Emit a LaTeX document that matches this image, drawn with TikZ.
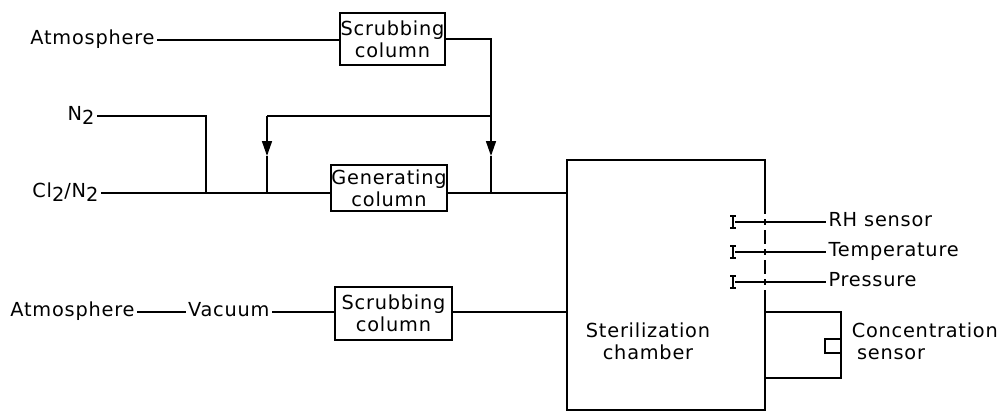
\documentclass[tikz,border=0pt]{standalone}
\usepackage{fontspec}
\setmainfont{DejaVu Sans}[LetterSpace=4]
\usetikzlibrary{arrows.meta}
\newcommand{\low}[1]{\raisebox{-0.35ex}{#1}}
\begin{document}
\begin{tikzpicture}[x=0.02cm,y=-0.02cm,line width=0.9pt,
    font=\fontsize{11}{12.5}\selectfont,
    box/.style={draw,line width=1.1pt,align=center,inner sep=0pt},
    lbl/.style={inner xsep=1pt},
    flow/.style={-{Triangle[length=0.3cm,width=0.2cm]}}]
  \useasboundingbox (0,0) rectangle (1001,414);
  % feed side
  \node[lbl,anchor=mid east] (atmA) at (157,40) {Atmosphere};
  \node[box,minimum width=2.1cm,minimum height=1.04cm] (scrubA) at (392.5,39) {Scrubbing\\column};
  \node[lbl,anchor=mid east] (nit) at (97,116) {N\low{2}};
  \node[lbl,anchor=mid east] (chl) at (101,193) {Cl\low{2}/N\low{2}};
  \node[box,minimum width=2.24cm,minimum height=0.92cm] (gen) at (389,188) {Generating\\column};
  \node[lbl,anchor=mid east] (atmB) at (137,312) {Atmosphere};
  \node[lbl,anchor=mid east] (vac) at (272,312) {Vacuum};
  \node[box,minimum width=2.34cm,minimum height=1.06cm] (scrubB) at (393.5,313.5) {Scrubbing\\column};
  % chamber
  \node[draw,line width=1.1pt,minimum width=3.96cm,minimum height=5cm] (ch) at (666,285) {};
  \node[align=center] (chlbl) at (648,341) {Sterilization\\chamber};
  \coordinate (jA) at (491,116);
  \coordinate (jB) at (491,193);
  \coordinate (jC) at (267,116);
  \coordinate (jD) at (267,193);
  \coordinate (jE) at (206,193);
  \coordinate (aA) at (491,156);
  \coordinate (aC) at (267,156);
  \draw (atmA.mid east) -- (atmA.mid east -| scrubA.west);
  \draw (scrubA.east) -| (jA) -- (jC);
  \draw[flow] (jA) -- (aA);
  \draw (aA) -- (jB);
  \draw[flow] (jC) -- (aC);
  \draw (aC) -- (jD);
  \draw (nit.mid east) -| (jE);
  \draw (chl.mid east) -- (chl.mid east -| gen.west);
  \draw (gen.east |- jB) -- (jB) -- (jB -| ch.west);
  \draw (atmB.mid east) -- (vac.mid west);
  \draw (vac.mid east) -- (vac.mid east -| scrubB.west);
  \draw (scrubB.east |- vac.mid east) -- (vac.mid east -| ch.west);
  % sensors
  \foreach \y/\n/\t in {222/rh/RH sensor,252/tp/Temperature,282/pr/Pressure} {
    \coordinate (\n i) at (735,\y);
    \node[lbl,anchor=mid west] (\n) at (826,\y) {\t};
    \draw[white,line width=1.8pt] (765,\y-8) -- (765,\y-3) (765,\y+3) -- (765,\y+8);
    \draw[line width=1pt] (730,\y-6) -- (736,\y-6) (733,\y-6) -- (733,\y+6) (730,\y+6) -- (736,\y+6);
    \draw (\n i) -- (\n.mid west);
  }
  \coordinate (cA) at (765,312);
  \coordinate (cB) at (841,378);
  \draw (cA) -| (cB) -- (cB -| ch.east);
  \node[draw,fill=white,minimum width=0.32cm,minimum height=0.28cm,inner sep=0pt] (cs) at (833,346) {};
  \node[anchor=west,align=left,inner xsep=0pt] (cl) at (851,341) {Concentration\\\hspace{3pt}sensor};
\end{tikzpicture}
\end{document}
